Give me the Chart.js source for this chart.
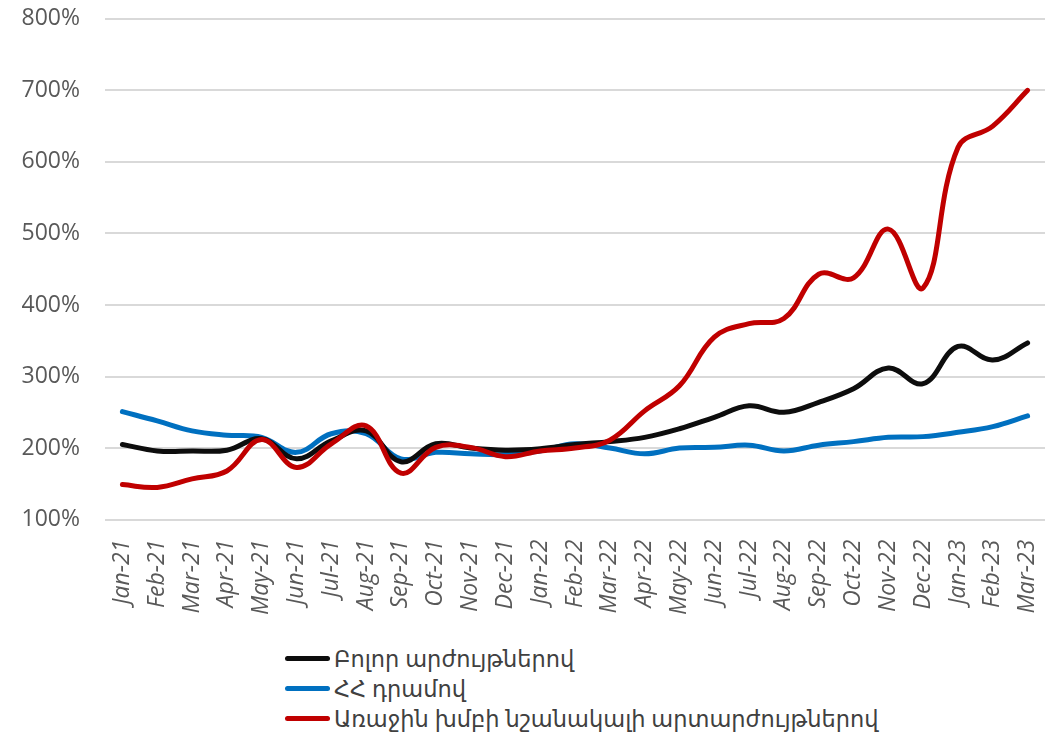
<!DOCTYPE html>
<html>
<head>
<meta charset="utf-8">
<script src="https://cdn.jsdelivr.net/npm/chart.js@4"></script>
<style>
  html, body { margin: 0; padding: 0; background: #fff; overflow: hidden; }
  #wrap { position: relative; width: 1045px; height: 735px; overflow: hidden; }
  #box { position: absolute; left: 0; top: -20px; width: 1045px; height: 647px; }
  #legend { position: absolute; left: 285px; top: 643px; font-family: "Open Sans", "DejaVu Sans", sans-serif; font-size: 22.5px; color: #404040; }
  .row { display: flex; align-items: center; height: 30px; }
  .sw { width: 45px; height: 5px; border-radius: 3px; margin-right: 4px; }
</style>
</head>
<body>
<div id="wrap">
  <div id="box"><canvas id="chart"></canvas></div>
  <div id="legend"></div>
</div>
<script>
const months = ['Jan-21', 'Feb-21', 'Mar-21', 'Apr-21', 'May-21', 'Jun-21', 'Jul-21', 'Aug-21', 'Sep-21',
    'Oct-21', 'Nov-21', 'Dec-21', 'Jan-22', 'Feb-22', 'Mar-22', 'Apr-22', 'May-22', 'Jun-22', 'Jul-22',
    'Aug-22', 'Sep-22', 'Oct-22', 'Nov-22', 'Dec-22', 'Jan-23', 'Feb-23', 'Mar-23'];

// Բոլոր արժույթներով
const allCur = [205, 196, 196, 197, 213, 185, 210, 224, 181, 206, 200, 197, 199, 205, 209,
    215, 227, 243, 259, 250, 264, 283, 312, 290, 342, 323, 347];

// ՀՀ դրամով
const amd = [251, 238, 224, 218, 215, 194, 220, 220, 185, 194, 192, 191, 196, 206, 200,
    192, 200, 201, 204, 196, 204, 209, 215, 216, 222, 230, 245];

// Առաջին խմբի նշանակալի արտարժույթներով
const firstGroup = [149, 145, 157, 168, 212, 173, 206, 231, 165, 201, 201, 188, 196, 200, 211,
    252, 287, 355, 374, 381, 443, 438, 506, 424, 620, 650, 700];

const yTicks = [100, 200, 300, 400, 500, 600, 700, 800];

const series = [
    { label: 'Բոլոր արժույթներով', data: allCur, color: '#0d0d0d', order: 2 },
    { label: 'ՀՀ դրամով', data: amd, color: '#0070c0', order: 3 },
    { label: 'Առաջին խմբի նշանակալի արտարժույթներով', data: firstGroup, color: '#c00000', order: 1 }
];

const tickFont = { family: '"Open Sans", sans-serif', size: 23 };

const chart = new Chart(document.getElementById('chart'), {
    type: 'line',
    data: {
        labels: months,
        datasets: series.map(s => ({
            label: s.label,
            data: s.data,
            borderColor: s.color,
            backgroundColor: s.color,
            borderWidth: 5,
            borderCapStyle: 'round',
            pointRadius: 0,
            tension: 0.4,
            order: s.order
        }))
    },
    options: {
        responsive: true,
        maintainAspectRatio: false,
        animation: false,
        layout: { padding: { left: 22, right: 0, top: 20, bottom: 0 } },
        plugins: {
            legend: { display: false },
            tooltip: { enabled: false }
        },
        scales: {
            x: {
                offset: true,
                grid: { display: false },
                border: { display: false },
                afterFit: axis => { axis.paddingLeft = 0; axis.paddingRight = 0; },
                ticks: {
                    color: '#595959',
                    font: { ...tickFont, style: 'italic' },
                    minRotation: 90,
                    maxRotation: 90,
                    autoSkip: false,
                    padding: 12
                }
            },
            y: {
                min: yTicks[0],
                max: yTicks[yTicks.length - 1],
                afterBuildTicks: axis => { axis.ticks = yTicks.map(v => ({ value: v })); },
                afterFit: axis => { axis.width = 83; },
                grid: { color: '#d9d9d9', lineWidth: 2, drawTicks: false },
                border: { display: false },
                ticks: {
                    color: '#595959',
                    font: tickFont,
                    padding: 25,
                    callback: v => v + '%'
                }
            }
        }
    }
});

// legend, one entry per row
const legend = document.getElementById('legend');
series.forEach(s => {
    const row = document.createElement('div');
    row.className = 'row';
    const sw = document.createElement('span');
    sw.className = 'sw';
    sw.style.background = s.color;
    const txt = document.createElement('span');
    txt.textContent = s.label;
    row.appendChild(sw);
    row.appendChild(txt);
    legend.appendChild(row);
});
</script>
</body>
</html>
